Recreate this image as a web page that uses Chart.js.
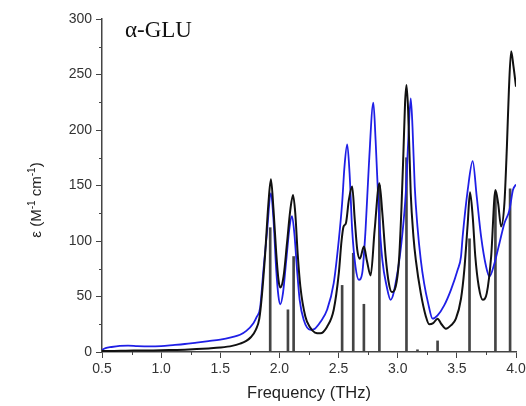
<!DOCTYPE html>
<html><head><meta charset="utf-8">
<script src="https://cdn.jsdelivr.net/npm/chart.js@4.4.0/dist/chart.umd.min.js"></script>
<style>html,body{margin:0;padding:0;background:#fff;}canvas{display:block;}</style>
</head><body>
<canvas id="c" width="526" height="406"></canvas>
<script>
// ---- data ----
const xTickLabels = [0.5, 1.0, 1.5, 2.0, 2.5, 3.0, 3.5, 4.0];
const yTickLabels = [0, 50, 100, 150, 200, 250, 300];

// calculated spectrum (black)
const calcFreq = [0.50,0.60,0.70,0.80,0.90,1.00,1.10,1.20,1.30,1.40,1.50,1.60,1.667,1.72,1.76,1.80,1.83,1.851,1.879,1.907,1.928,1.95,1.973,1.992,2.007,2.035,2.064,2.092,2.115,2.134,2.154,2.177,2.219,2.26,2.30,2.346,2.403,2.459,2.502,2.525,2.542,2.562,2.587,2.615,2.637,2.658,2.68,2.714,2.74,2.771,2.805,2.845,2.87,2.898,2.925,2.95,2.983,3.011,3.031,3.048,3.062,3.074,3.088,3.11,3.133,3.153,3.195,3.238,3.266,3.30,3.337,3.37,3.407,3.45,3.492,3.535,3.563,3.592,3.611,3.634,3.656,3.685,3.719,3.753,3.79,3.826,3.849,3.874,3.902,3.923,3.94,3.959,3.979,4.0];
const calcEps  = [1.0,1.0,1.2,1.3,1.4,1.5,1.8,2.1,2.6,3.2,4.0,5.5,7.5,10,13.5,20,30,50,88,134,155.6,128,89,65,58,68,98,128,141.4,125,89,59,32,22,17.5,16.8,22.8,38,71,100,113,116,137,149,119,92,84,95,82,69,110,152,125,86,62,54,59,83,128,179,224,240.5,218,143,104,83,53,32,25,26,30,25,21,24,30,48,74,116,144,122,86,59,47,53,86,146,134,113,134,185,236,271,257,239];

// measured spectrum (blue)
const measFreq = [0.50,0.53,0.58,0.65,0.72,0.80,0.90,1.00,1.10,1.20,1.30,1.40,1.50,1.60,1.667,1.72,1.78,1.81,1.837,1.865,1.894,1.928,1.95,1.973,1.992,2.007,2.03,2.058,2.086,2.106,2.126,2.149,2.171,2.205,2.262,2.30,2.346,2.403,2.459,2.502,2.53,2.55,2.573,2.593,2.615,2.643,2.672,2.70,2.728,2.757,2.794,2.813,2.841,2.87,2.907,2.94,2.997,3.04,3.068,3.088,3.11,3.125,3.144,3.167,3.195,3.223,3.257,3.295,3.337,3.393,3.45,3.507,3.535,3.549,3.592,3.634,3.668,3.705,3.747,3.775,3.818,3.86,3.902,3.945,3.974,4.0];
const measEps  = [2,3.5,4.5,5.5,5.8,5.3,5.0,5.3,6.2,7.2,8.5,9.8,11.2,13.5,15.5,19,26,32,40,74,107,143,119,74,50,43,53,83,113,122.5,107,74,47,29,20,21,27,38,62,101,134,167,187,161,110,77,65,71,110,170,224.6,191,125,83,59,47,71,107,143,188,228.5,203,149,113,83,62,44,30,33,42,56,74,86,104,146,172,140,104,77,68,80,98,116,128,146,151];

// calculated mode positions (sticks)
const stickFreq = [1.922,2.072,2.120,2.530,2.624,2.714,2.845,3.074,3.167,3.337,3.607,3.826,3.950];
const stickEps  = [112,38,86,60,89,43,150,175,2,10,102,143,147];

const toXY = (xs, ys) => xs.map((x, i) => ({x: x, y: ys[i]}));

const axisColor = '#444';
const tickFont = {family: '"Liberation Sans", Arial, sans-serif', size: 14};

const decorPlugin = {
  id: 'decor',
  afterDraw(chart) {
    const ctx = chart.ctx;
    const xs = chart.scales.x, ys = chart.scales.y;
    ctx.save();
    ctx.strokeStyle = axisColor;
    ctx.lineWidth = 1;
    for (let i = 0; i < xTickLabels.length - 1; i++) {
      const v = (xTickLabels[i] + xTickLabels[i + 1]) / 2;
      const px = Math.round(xs.getPixelForValue(v)) + 0.5;
      ctx.beginPath(); ctx.moveTo(px, ys.bottom); ctx.lineTo(px, ys.bottom + 3); ctx.stroke();
    }
    for (let i = 0; i < yTickLabels.length - 1; i++) {
      const v = (yTickLabels[i] + yTickLabels[i + 1]) / 2;
      const py = Math.round(ys.getPixelForValue(v)) + 0.5;
      ctx.beginPath(); ctx.moveTo(xs.left, py); ctx.lineTo(xs.left - 3, py); ctx.stroke();
    }
    ctx.fillStyle = '#111';
    ctx.font = '23px "Liberation Serif", "Times New Roman", serif';
    ctx.textBaseline = 'alphabetic';
    ctx.textAlign = 'left';
    ctx.fillText('α-GLU', 125, 37);
    const parts = [['ε (M', false], ['-1', true], [' cm', false], ['-1', true], [')', false]];
    const nf = '15px "Liberation Sans", Arial, sans-serif';
    const sf = '10px "Liberation Sans", Arial, sans-serif';
    let total = 0;
    parts.forEach(p => { ctx.font = p[1] ? sf : nf; total += ctx.measureText(p[0]).width; });
    ctx.translate(37, 200);
    ctx.rotate(-Math.PI / 2);
    ctx.fillStyle = '#222';
    ctx.textBaseline = 'middle';
    let cx = -total / 2;
    parts.forEach(p => {
      ctx.font = p[1] ? sf : nf;
      ctx.fillText(p[0], cx, p[1] ? -5 : 0);
      cx += ctx.measureText(p[0]).width;
    });
    ctx.restore();
  }
};

new Chart(document.getElementById('c'), {
  type: 'line',
  data: {
    datasets: [
      {type: 'line', label: 'calc', data: toXY(calcFreq, calcEps), borderColor: '#111', borderWidth: 2,
       pointRadius: 0, cubicInterpolationMode: 'monotone', fill: false, order: 1},
      {type: 'line', label: 'meas', data: toXY(measFreq, measEps), borderColor: '#1f1fe6', borderWidth: 1.8,
       pointRadius: 0, cubicInterpolationMode: 'monotone', fill: false, order: 2},
      {type: 'bar', label: 'modes', data: toXY(stickFreq, stickEps), backgroundColor: '#444', borderWidth: 0,
       barThickness: 2, grouped: false, order: 3}
    ]
  },
  options: {
    responsive: false,
    animation: false,
    events: [],
    layout: {padding: {top: 19, right: 10, left: 0, bottom: 0}},
    plugins: {legend: {display: false}, tooltip: {enabled: false}},
    scales: {
      x: {
        type: 'linear', min: 0.5, max: 4.0, offset: false,
        afterFit: s => { s.height = 54; s.paddingRight = 0; },
        afterBuildTicks: s => { s.ticks = xTickLabels.map(v => ({value: v})); },
        ticks: {font: tickFont, color: '#333', padding: 3, maxRotation: 0, autoSkip: false,
                callback: v => Number(v).toFixed(1)},
        grid: {drawOnChartArea: false, offset: false, tickLength: 6, color: axisColor, tickWidth: 1},
        border: {color: axisColor, width: 1.5},
        title: {display: true, text: 'Frequency (THz)', color: '#222',
                font: {family: '"Liberation Sans", Arial, sans-serif', size: 16.5}, padding: {top: 0, bottom: 3}}
      },
      y: {
        min: 0, max: 300,
        afterFit: s => { s.width = 102; },
        afterBuildTicks: s => { s.ticks = yTickLabels.map(v => ({value: v})); },
        ticks: {font: tickFont, color: '#333', padding: 4, callback: v => String(v)},
        grid: {drawOnChartArea: false, tickLength: 6, color: axisColor, tickWidth: 1},
        border: {color: axisColor, width: 1.5}
      }
    }
  },
  plugins: [decorPlugin]
});
</script>
</body></html>
